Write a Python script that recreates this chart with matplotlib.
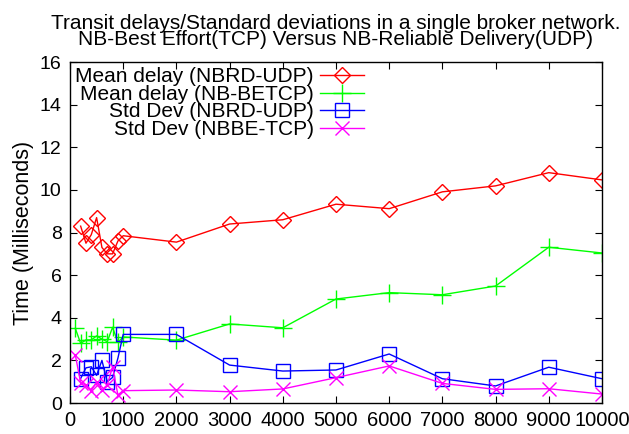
import numpy as np
import matplotlib
matplotlib.use("Agg")
import matplotlib.pyplot as plt

plt.rcParams["font.family"] = ["Liberation Sans", "DejaVu Sans"]

# Datos
x_tcp = [100, 200, 300, 400, 500, 600, 700, 800, 900, 1000,
         2000, 3000, 4000, 5000, 6000, 7000, 8000, 9000, 10000]
x_udp = [200, 300, 400, 500, 600, 700, 800, 900, 1000,
         2000, 3000, 4000, 5000, 6000, 7000, 8000, 9000, 10000]

mean_nbrd_udp = [8.3, 7.5, 7.9, 8.7, 7.3, 7.0, 7.0, 7.6, 7.85,
                 7.55, 8.4, 8.6, 9.33, 9.12, 9.91, 10.19, 10.81, 10.47]
mean_nbbe_tcp = [3.5, 2.8, 2.96, 2.96, 3.15, 3.0, 2.88, 3.55, 2.85, 3.1,
                 2.95, 3.71, 3.53, 4.88, 5.18, 5.08, 5.49, 7.31, 7.04]
std_nbrd_udp = [1.15, 1.65, 1.7, 1.3, 2.0, 1.0, 1.2, 2.1, 3.22,
                3.22, 1.78, 1.5, 1.55, 2.3, 1.14, 0.8, 1.68, 1.14]
std_nbbe_tcp = [2.25, 0.95, 0.85, 0.58, 1.0, 0.61, 0.85, 1.7, 0.38, 0.58,
                0.61, 0.53, 0.66, 1.19, 1.74, 0.92, 0.64, 0.67, 0.42]

labels = ["Mean delay (NBRD-UDP)", "Mean delay (NB-BETCP)",
          "Std Dev (NBRD-UDP)", "Std Dev (NBBE-TCP)"]

fig = plt.figure(figsize=(6.29, 4.34), dpi=100)
ax = fig.add_axes([0.1113, 0.0714, 0.957 - 0.1113, 0.857 - 0.0714])

ms = 10
ax.plot(x_udp, mean_nbrd_udp, color="#ff0000", marker="D", ms=ms * 0.8,
        mfc="none", lw=1, label=labels[0])
ax.plot(x_tcp, mean_nbbe_tcp, color="#00ff00", marker="+", ms=ms * 1.3,
        mew=1, lw=1, label=labels[1])
ax.plot(x_udp, std_nbrd_udp, color="#0000ff", marker="s", ms=ms,
        mfc="none", lw=1, label=labels[2])
ax.plot(x_tcp, std_nbbe_tcp, color="#ff00ff", marker="x", ms=ms,
        mew=1, lw=1, label=labels[3])

ax.set_xlim(0, 10000)
ax.set_ylim(0, 16)
ax.set_xticks(np.arange(0, 10001, 1000))
ax.set_yticks(np.arange(0, 17, 2))
ax.tick_params(axis="both", direction="in", top=True, right=True, length=5, width=0.8)
ax.tick_params(axis="x", labelsize=14.5, pad=6)
ax.tick_params(axis="y", labelsize=14, pad=6)
for s in ax.spines.values():
    s.set_linewidth(1)

ax.set_ylabel("Time (Milliseconds)", fontsize=15.5, labelpad=4)
ax.set_title("Transit delays/Standard deviations in a single broker network.\n"
             "NB-Best Effort(TCP) Versus NB-Reliable Delivery(UDP)",
             fontsize=15, linespacing=0.8, pad=12)

ax.legend(loc="upper left", bbox_to_anchor=(0.0, 1.0), frameon=False,
          markerfirst=False, fontsize=15, handlelength=2.1, handletextpad=0.3,
          labelspacing=-0.07, borderaxespad=0.1, borderpad=0.15)

plt.savefig("out.png", dpi=100)
